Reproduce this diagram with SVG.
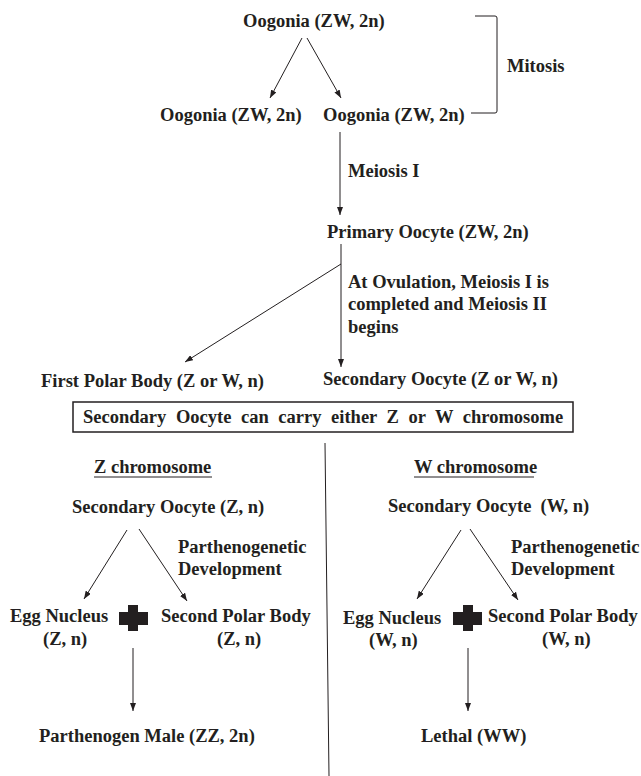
<svg xmlns="http://www.w3.org/2000/svg" width="641" height="776" viewBox="0 0 641 776">
<defs>
<marker id="ah" markerUnits="userSpaceOnUse" markerWidth="8" markerHeight="6" refX="8" refY="3" orient="auto">
<path d="M0,0 L8,3 L0,6 z" fill="#231f20"/>
</marker>
<style>
text{font-family:"Liberation Serif","Times New Roman",serif;font-weight:bold;font-size:18.5px;fill:#231f20}
.ln{stroke:#231f20;stroke-width:1;fill:none}
.ar{stroke:#231f20;stroke-width:1;fill:none;marker-end:url(#ah)}
.plus{fill:#231f20}
</style>
</defs>
<rect width="641" height="776" fill="#fff"/>
<g id="connectors">
<line class="ar" x1="302" y1="38" x2="270" y2="98"/>
<line class="ar" x1="307" y1="38" x2="341" y2="98"/>
<path class="ln" d="M475,16 L495,16 Q497,16 497,18 L497,111 Q497,113 495,113 L471,113"/>
<line class="ar" x1="340" y1="132" x2="340" y2="215"/>
<line class="ar" x1="341" y1="244" x2="341" y2="367"/>
<line class="ar" x1="341" y1="264" x2="185" y2="362"/>
<line class="ln" x1="325" y1="443" x2="329" y2="776"/>
<line class="ar" x1="127" y1="530" x2="84" y2="599"/>
<line class="ar" x1="139" y1="529" x2="187" y2="601"/>
<line class="ar" x1="133" y1="648" x2="133" y2="711"/>
<line class="ar" x1="461" y1="530" x2="417" y2="599"/>
<line class="ar" x1="470" y1="529" x2="518" y2="600"/>
<line class="ar" x1="468" y1="648" x2="468" y2="711"/>
</g>
<g id="oogonia-top"><text x="243" y="27">Oogonia (ZW, 2n)</text></g>
<g id="oogonia-left"><text x="160" y="121">Oogonia (ZW, 2n)</text></g>
<g id="oogonia-right"><text x="323" y="121">Oogonia (ZW, 2n)</text></g>
<g id="mitosis"><text x="507" y="72">Mitosis</text></g>
<g id="meiosis1"><text x="348" y="177">Meiosis I</text></g>
<g id="primary-oocyte"><text x="327" y="238">Primary Oocyte (ZW, 2n)</text></g>
<g id="ovulation"><text x="348" y="288">At Ovulation, Meiosis I is</text><text x="348" y="310">completed and Meiosis II</text><text x="348" y="333">begins</text></g>
<g id="first-polar"><text x="41" y="387">First Polar Body (Z or W, n)</text></g>
<g id="secondary-oocyte"><text x="323" y="385">Secondary Oocyte (Z or W, n)</text></g>
<g id="note-box"><rect x="73" y="402" width="500" height="30" fill="none" stroke="#231f20" stroke-width="1.5"/><text x="83" y="423" word-spacing="5">Secondary Oocyte can carry either Z or W chromosome</text></g>
<g id="z-heading"><text x="94" y="473">Z chromosome</text><line class="ln" x1="94" y1="477" x2="212" y2="477"/></g>
<g id="w-heading"><text x="414" y="473">W chromosome</text><line class="ln" x1="414" y1="477" x2="534" y2="477"/></g>
<g id="sec-z"><text x="72" y="513">Secondary Oocyte (Z, n)</text></g>
<g id="parth-z"><text x="178" y="553">Parthenogenetic</text><text x="178" y="575">Development</text></g>
<g id="egg-z"><text x="10" y="622">Egg Nucleus</text><text x="43" y="645">(Z, n)</text></g>
<g id="plus-z"><path class="plus" d="M128,605 H138 V612 H148 V625 H138 V631 H128 V625 H119 V612 H128 z"/></g>
<g id="polar-z"><text x="161" y="622">Second Polar Body</text><text x="217" y="645">(Z, n)</text></g>
<g id="male"><text x="39" y="742">Parthenogen Male (ZZ, 2n)</text></g>
<g id="sec-w"><text x="388" y="512" style="white-space:pre">Secondary Oocyte  (W, n)</text></g>
<g id="parth-w"><text x="511" y="553">Parthenogenetic</text><text x="511" y="575">Development</text></g>
<g id="egg-w"><text x="343" y="624">Egg Nucleus</text><text x="369" y="646">(W, n)</text></g>
<g id="plus-w"><path class="plus" d="M463,605 H473 V612 H482 V625 H473 V631 H463 V625 H453 V612 H463 z"/></g>
<g id="polar-w"><text x="488" y="622">Second Polar Body</text><text x="542" y="645">(W, n)</text></g>
<g id="lethal"><text x="421" y="742">Lethal (WW)</text></g>
</svg>
